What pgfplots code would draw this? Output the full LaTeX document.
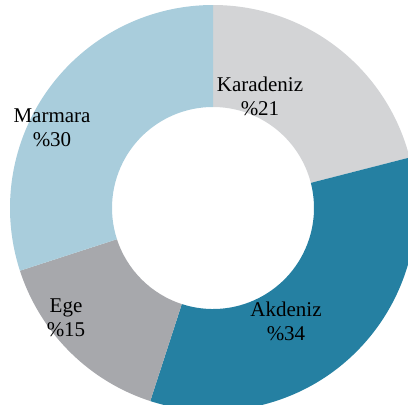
\documentclass[border=0pt]{standalone}
\usepackage{pgfplots}
\usepackage{pgfplotstable}
\pgfplotsset{compat=1.18}
\usepackage{fontspec}
\setmainfont{Liberation Serif}

\definecolor{cKara}{HTML}{D3D4D6}
\definecolor{cAkd}{HTML}{2580A2}
\definecolor{cEge}{HTML}{A7A8AC}
\definecolor{cMar}{HTML}{A9CDDC}

% share (%) and label position relative to the centre
\pgfplotstableread{
region    value col   lx   ly
Karadeniz 21    cKara 47   112
Akdeniz   34    cAkd  73   -113
Ege       15    cEge  -147 -110
Marmara   30    cMar  -161 80
}\pietable

\newcommand\labelfont{\fontsize{21}{24}\selectfont}

\begin{document}
\begin{tikzpicture}
\begin{axis}[hide axis, scale only axis, width=408pt, height=405pt,
  xmin=-213, xmax=195, ymin=-197, ymax=208, clip=true,
  at={(0,0)}, anchor=south west]
\gdef\start{90}
\pgfplotsinvokeforeach{0,1,2,3}{
  \pgfplotstablegetelem{#1}{value}\of\pietable \let\v\pgfplotsretval
  \pgfplotstablegetelem{#1}{col}\of\pietable \let\c\pgfplotsretval
  \pgfplotstablegetelem{#1}{region}\of\pietable \let\r\pgfplotsretval
  \pgfplotstablegetelem{#1}{lx}\of\pietable \let\lx\pgfplotsretval
  \pgfplotstablegetelem{#1}{ly}\of\pietable \let\ly\pgfplotsretval
  \pgfmathsetmacro\stop{\start-3.6*\v}
  \pgfmathsetmacro\xa{203*cos(\start)}
  \pgfmathsetmacro\ya{203*sin(\start)}
  \pgfmathsetmacro\xb{101*cos(\stop)}
  \pgfmathsetmacro\yb{101*sin(\stop)}
  \edef\temp{\noexpand\fill[\c] (axis cs:\xa,\ya)
    arc[start angle=\start, end angle=\stop, radius=203pt]
    -- (axis cs:\xb,\yb)
    arc[start angle=\stop, end angle=\start, radius=101pt] -- cycle;
    \noexpand\node[align=center, font=\noexpand\labelfont, text=black]
    at (axis cs:\lx,\ly) {\r\noexpand\\\noexpand\%\v};}
  \temp
  \global\let\start\stop
}
\end{axis}
\pgfresetboundingbox
\useasboundingbox (0,0) rectangle (408pt,405pt);
\end{tikzpicture}
\end{document}
